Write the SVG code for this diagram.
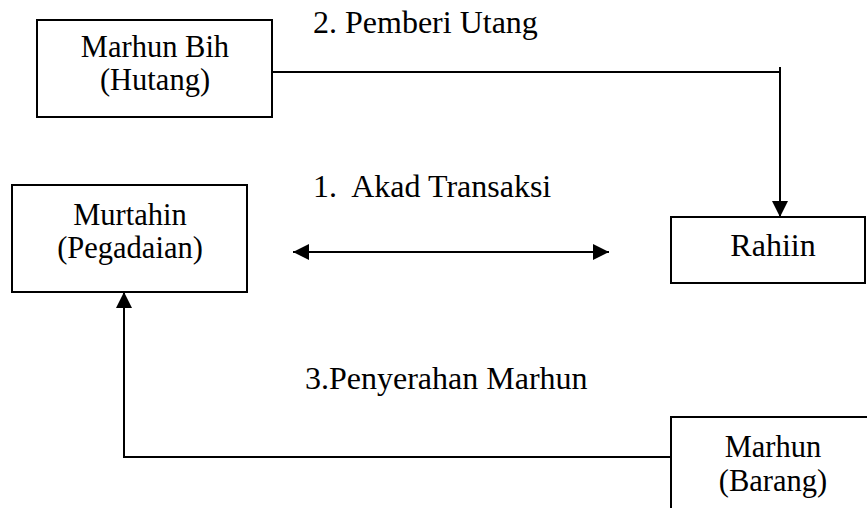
<svg xmlns="http://www.w3.org/2000/svg" width="867" height="508" viewBox="0 0 867 508">
<style>
.box{fill:#fff;stroke:#000;stroke-width:2}
.t{font-family:'Liberation Serif','Times New Roman','DejaVu Serif',serif;font-size:32px;fill:#000}
.n{font-size:30.5px}
.c{text-anchor:middle}
.ln{fill:none;stroke:#000;stroke-width:2}
</style>
<defs>
<marker id="ah" viewBox="0 0 10 10" refX="10" refY="5" markerWidth="16" markerHeight="16" markerUnits="userSpaceOnUse" orient="auto-start-reverse">
<path d="M0,0 L10,5 L0,10 Z" fill="#000"/>
</marker>
</defs>
<rect width="867" height="508" fill="#fff"/>
<g id="connectors">
<polyline class="ln" points="272,72 780,72"/>
<line class="ln" x1="780" y1="67" x2="780" y2="217" stroke-width="3" marker-end="url(#ah)"/>
<line class="ln" x1="293" y1="252" x2="609" y2="252" stroke-width="3" marker-start="url(#ah)" marker-end="url(#ah)"/>
<polyline class="ln" points="671,457 124,457 124,292" marker-end="url(#ah)"/>
<text class="t" x="313" y="33">2. Pemberi Utang</text>
<text class="t" x="313" y="197" xml:space="preserve">1.  Akad Transaksi</text>
<text class="t" x="305" y="389">3.Penyerahan Marhun</text>
</g>
<g id="marhun-bih">
<rect class="box" x="37" y="20" width="235" height="97"/>
<text class="t n c" x="155" y="57">Marhun Bih</text>
<text class="t n c" x="155" y="90">(Hutang)</text>
</g>
<g id="murtahin">
<rect class="box" x="12" y="185" width="235" height="107"/>
<text class="t n c" x="130" y="225">Murtahin</text>
<text class="t n c" x="130" y="258">(Pegadaian)</text>
</g>
<g id="rahiin">
<rect class="box" x="671" y="217" width="194" height="66"/>
<text class="t c" x="773" y="256">Rahiin</text>
</g>
<g id="marhun">
<rect class="box" x="671" y="417" width="210" height="110"/>
<text class="t n c" x="773" y="457">Marhun</text>
<text class="t n c" x="773" y="491">(Barang)</text>
</g>
</svg>
